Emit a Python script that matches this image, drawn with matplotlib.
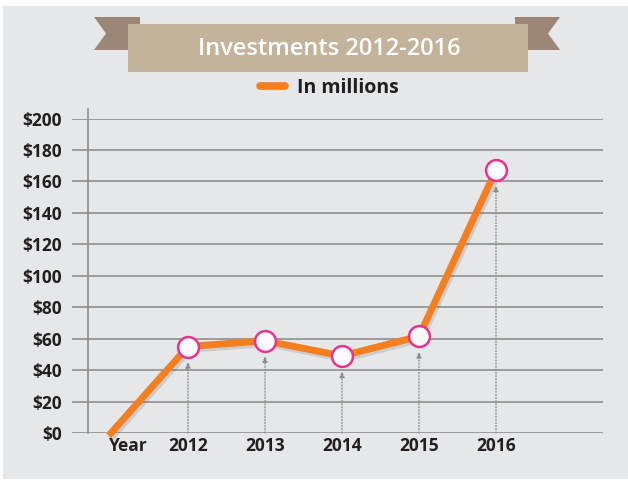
import matplotlib
matplotlib.use("Agg")
import matplotlib.pyplot as plt
from matplotlib.patches import Rectangle, Polygon
from matplotlib.lines import Line2D
import matplotlib.patheffects as pe
import matplotlib.transforms as mtransforms

categories = ["Year", "2012", "2013", "2014", "2015", "2016"]
values = [0, 55, 58.7, 49, 61.5, 167.3]
yticks = [0, 20, 40, 60, 80, 100, 120, 140, 160, 180, 200]
ytick_labels = ["$" + str(v) for v in yticks]
title = "Investments 2012-2016"
legend_label = "In millions"

ORANGE = "#f47f20"
PINK = "#e6338f"
PANEL = "#e6e7e8"
BANNER = "#c4b39b"
RIBBON = "#9c8677"
TEXT = "#231f20"
GRID = "#8f8f8f"
FONT = "Open Sans"

W, H = 628, 482
fig = plt.figure(figsize=(W / 100, H / 100), dpi=100)
fig.patch.set_facecolor("white")

# background overlay in pixel coordinates
bg = fig.add_axes([0, 0, 1, 1], zorder=0)
bg.set_xlim(0, W)
bg.set_ylim(H, 0)
bg.axis("off")
bg.add_patch(Rectangle((3, 6), W - 3, 473, facecolor=PANEL, edgecolor="none"))
# ribbons
bg.add_patch(Polygon([(94, 17), (140, 17), (140, 50), (94, 50), (106, 33.5)],
                     closed=True, facecolor=RIBBON, edgecolor="none"))
bg.add_patch(Polygon([(515, 17), (560, 17), (548, 33.5), (560, 50), (515, 50)],
                     closed=True, facecolor=RIBBON, edgecolor="none"))
bg.add_patch(Rectangle((128, 24), 400, 48, facecolor=BANNER, edgecolor="none"))
bg.text(329, 49, title, color="white", fontsize=17, fontweight="semibold",
        family=FONT, ha="center", va="center")

# main axes
px_left, px_right = 72, 603
px_y0, px_y200 = 433, 118.6
ax = fig.add_axes([px_left / W, (H - px_y0) / H, (px_right - px_left) / W,
                   (px_y0 - px_y200) / H], zorder=2)
ax.set_facecolor("none")
x = list(range(len(categories)))
x0_px, step_px = 111, 77
ax.set_xlim((px_left - x0_px) / step_px, (px_right - x0_px) / step_px)
ax.set_ylim(0, 200)
for s in ax.spines.values():
    s.set_visible(False)

ax.set_yticks(yticks)
ax.set_yticklabels(ytick_labels)
ax.yaxis.grid(True, color=GRID, linewidth=1.2)
ax.set_axisbelow(True)
ax.tick_params(axis="y", length=0, pad=7.5)
ax.set_xticks(x)
ax.set_xticklabels(categories)
ax.tick_params(axis="x", length=0, pad=3)
for lab in ax.get_yticklabels() + ax.get_xticklabels():
    lab.set_fontfamily(FONT)
    lab.set_fontweight("bold")
    lab.set_fontsize(12.5)
    lab.set_color(TEXT)
# shift the "Year" label a little right
first = ax.get_xticklabels()[0]
first.set_transform(first.get_transform() + mtransforms.ScaledTranslation(17 / 100, 0, fig.dpi_scale_trans))

# vertical axis line
vx = (88 - x0_px) / step_px
ax.plot([vx, vx], [0, (px_y0 - 109) / 1.572], color=GRID, lw=1.2, clip_on=False, zorder=1)

# dotted arrows
for xi, v in zip(x[1:], values[1:]):
    ax.annotate("", xy=(xi, v), xytext=(xi, 0),
                arrowprops=dict(arrowstyle="-|>,head_length=0.35,head_width=0.15",
                                color="#8a8a8a", lw=0.9, linestyle=(0, (1, 1.5)),
                                shrinkA=0, shrinkB=11), zorder=2)

ax.plot(x, values, color=ORANGE, lw=5, solid_joinstyle="miter", zorder=3, clip_on=False,
        path_effects=[pe.SimpleLineShadow(offset=(1.5, -2), alpha=0.18, shadow_color="#555555"),
                      pe.Normal()])
ax.plot(x[1:], values[1:], linestyle="none", marker="o", markersize=15, clip_on=False,
        markerfacecolor="#fdf9fb", markeredgecolor=PINK, markeredgewidth=1.8, zorder=4)

handle = Line2D([], [], color=ORANGE, lw=5.5, solid_capstyle="round")
leg = ax.legend([handle], [legend_label], loc="center",
                bbox_to_anchor=(329 / W, (H - 88) / H), bbox_transform=fig.transFigure,
                frameon=False, handlelength=1.3, handletextpad=0.6,
                prop={"family": FONT, "weight": "bold", "size": 14})
for t in leg.get_texts():
    t.set_color(TEXT)

fig.savefig("out.png", dpi=100, facecolor=fig.get_facecolor())
